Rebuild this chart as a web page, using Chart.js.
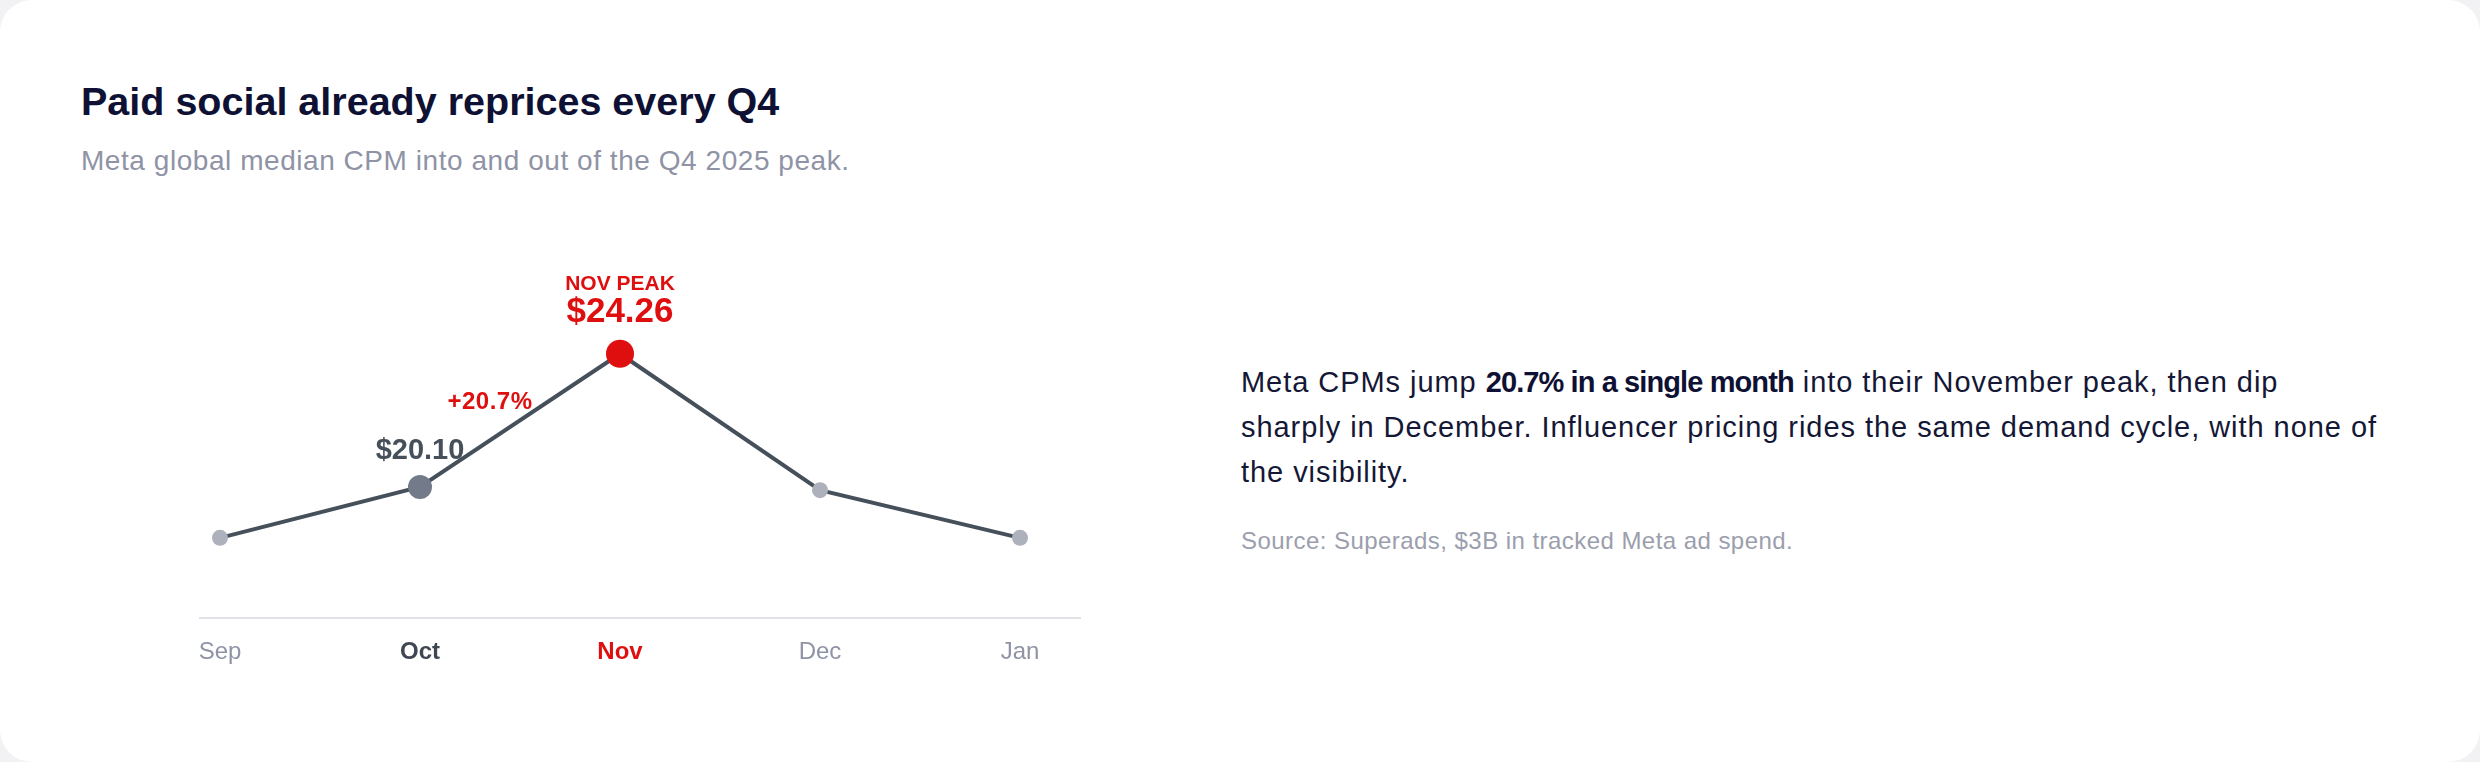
<!DOCTYPE html>
<html>
<head>
<meta charset="utf-8">
<script src="https://cdn.jsdelivr.net/npm/chart.js@4"></script>
<style>
    html, body {
        margin: 0;
        padding: 0;
        background: #f2f2f4;
        font-family: "Liberation Sans", Arial, sans-serif;
    }
    .card {
        position: absolute;
        left: 0;
        top: 0;
        width: 2480px;
        height: 762px;
        background: #ffffff;
        border-radius: 32px;
        overflow: hidden;
    }
    .title {
        position: absolute;
        left: 81px;
        top: 82px;
        font-size: 39.5px;
        line-height: 1;
        font-weight: bold;
        color: #0e1133;
        white-space: nowrap;
    }
    .subtitle {
        position: absolute;
        left: 81px;
        top: 147px;
        font-size: 28px;
        letter-spacing: 0.55px;
        line-height: 1;
        color: #8f93a5;
        white-space: nowrap;
    }
    .chart-box {
        position: absolute;
        left: 150px;
        top: 230px;
        width: 980px;
        height: 470px;
    }
    .note {
        position: absolute;
        left: 1241px;
        top: 360px;
        font-size: 29px;
        letter-spacing: 0.95px;
        line-height: 45px;
        color: #141735;
        white-space: nowrap;
    }
    .note b {
        color: #0e1133;
        letter-spacing: -0.9px;
    }
    .source {
        position: absolute;
        left: 1241px;
        top: 529px;
        font-size: 24px;
        letter-spacing: 0.45px;
        line-height: 1;
        color: #9b9eac;
        white-space: nowrap;
    }
</style>
</head>
<body>
<div class="card">
    <div class="title">Paid social already reprices every Q4</div>
    <div class="subtitle">Meta global median CPM into and out of the Q4 2025 peak.</div>
    <div class="chart-box"><canvas id="cpmChart"></canvas></div>
    <div class="note">
        Meta CPMs jump <b>20.7% in a single month</b> into their November peak, then dip<br>
        sharply in December. Influencer pricing rides the same demand cycle, with none of<br>
        the visibility.
    </div>
    <div class="source">Source: Superads, $3B in tracked Meta ad spend.</div>
</div>

<script>
// chart data
const months = ['Sep', 'Oct', 'Nov', 'Dec', 'Jan'];
const cpm = [18.51, 20.10, 24.26, 20.00, 18.51];
const peakLabel = 'NOV PEAK';
const peakValueLabel = '$24.26';
const octValueLabel = '$20.10';
const jumpLabel = '+20.7%';

// point look per month
const pointColors = ['#adb1bb', '#737a89', '#e00f0f', '#adb1bb', '#adb1bb'];
const pointSizes = [8, 12, 14, 8, 8];
const tickColors = ['#8f93a5', '#3f4753', '#e00f0f', '#8f93a5', '#8f93a5'];
const tickWeights = ['normal', 'bold', 'bold', 'normal', 'normal'];

const FONT = '"Liberation Sans", Arial, sans-serif';

// labels sitting on the points
const annotationPlugin = {
    id: 'annotations',
    afterDatasetsDraw(chart) {
        const ctx = chart.ctx;
        const pts = chart.getDatasetMeta(0).data;
        const oct = pts[1];
        const nov = pts[2];

        ctx.save();
        ctx.textAlign = 'center';
        ctx.textBaseline = 'alphabetic';

        ctx.fillStyle = '#e00f0f';
        ctx.font = 'bold 21px ' + FONT;
        ctx.fillText(peakLabel, nov.x, nov.y - 64);
        ctx.font = 'bold 35px ' + FONT;
        ctx.fillText(peakValueLabel, nov.x, nov.y - 32);

        ctx.fillStyle = '#46505b';
        ctx.font = 'bold 29px ' + FONT;
        ctx.fillText(octValueLabel, oct.x, oct.y - 28);

        ctx.fillStyle = '#e00f0f';
        ctx.font = 'bold 24px ' + FONT;
        ctx.letterSpacing = '0.5px';
        ctx.fillText(jumpLabel, (oct.x + nov.x) / 2 - 30, (oct.y + nov.y) / 2 - 11);
        ctx.restore();
    }
};

document.addEventListener('DOMContentLoaded', function() {
    const ctx = document.getElementById('cpmChart').getContext('2d');

    new Chart(ctx, {
        type: 'line',
        data: {
            datasets: [{
                label: 'Meta CPM',
                data: cpm.map((v, i) => ({ x: i, y: v })),
                borderColor: '#46505b',
                borderWidth: 4,
                tension: 0,
                fill: false,
                pointRadius: pointSizes,
                pointHoverRadius: pointSizes,
                pointBackgroundColor: pointColors,
                pointBorderWidth: 0
            }]
        },
        options: {
            responsive: true,
            maintainAspectRatio: false,
            animation: false,
            events: [],
            layout: {
                autoPadding: false,
                padding: { left: 50, right: 50, top: 36, bottom: 13 }
            },
            plugins: {
                legend: { display: false },
                tooltip: { enabled: false }
            },
            scales: {
                x: {
                    type: 'linear',
                    min: -0.1,
                    max: 4.3,
                    grid: { display: false, drawTicks: false },
                    border: { display: true, color: '#e2e3e8', width: 2 },
                    ticks: {
                        stepSize: 1,
                        includeBounds: false,
                        autoSkip: false,
                        maxRotation: 0,
                        padding: 20,
                        callback: value => months[value] || '',
                        color: c => tickColors[c.tick.value] || '#8f93a5',
                        font: c => ({ family: FONT, size: 24, weight: tickWeights[c.tick ? c.tick.value : 0] || 'normal' })
                    }
                },
                y: {
                    display: false,
                    min: 16,
                    max: 27
                }
            }
        },
        plugins: [annotationPlugin]
    });
});
</script>
</body>
</html>
